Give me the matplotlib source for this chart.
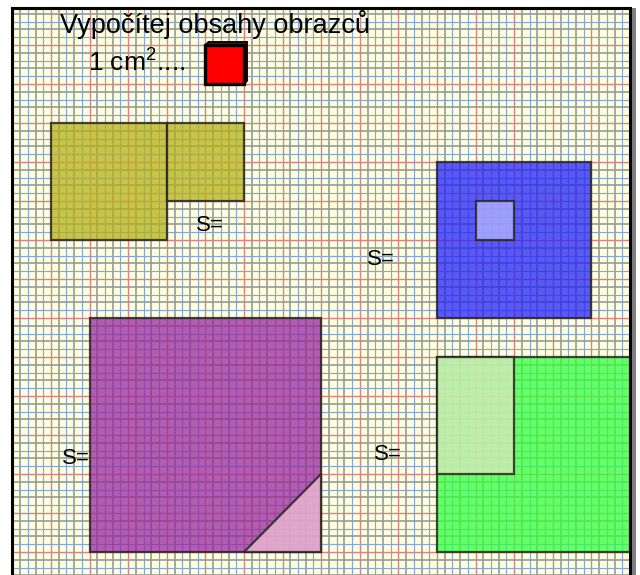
import numpy as np
import matplotlib
matplotlib.use("Agg")
import matplotlib.pyplot as plt
from matplotlib.patches import Rectangle, Polygon

plt.rcParams['font.family'] = ['Liberation Sans', 'DejaVu Sans']
plt.rcParams['mathtext.fontset'] = 'custom'
plt.rcParams['mathtext.rm'] = 'Liberation Sans'
plt.rcParams['mathtext.it'] = 'Liberation Sans'

# shapes in cm on the squared paper (x to the right, y downwards)
olive_rects = [(0, 2, 3, 3), (3, 2, 2, 2)]          # x, y, w, h
blue_outer = (10, 3, 4, 4)
blue_inner = (11, 4, 1, 1)
purple_square = (1, 7, 6, 6)
pink_triangle = [(5, 13), (7, 13), (7, 11)]
green_square = (10, 8, 5, 5)
green_light = (10, 8, 2, 3)
unit_square = (4, 0, 1, 1)

title = "Vypočítej obsahy obrazců"
unit_label = "1 cm$^{\\mathrm{2}}$...."
s_label = "S="
s_positions = [(3.76, 4.62), (8.19, 5.49), (0.28, 10.6), (8.37, 10.5)]

# colours
cream = '#FFFFDD'
c_red = '#D98088'
c_blue = '#85A6D6'
c_gray = '#949C9C'
a = 0.75

fig = plt.figure(figsize=(6.4, 5.75), dpi=100)
ax = fig.add_axes([0, 0, 1, 1])
ax.set_xlim(-51 / 38.6, 589 / 38.6)
ax.set_ylim(530 / 39.0, -45 / 39.0)
ax.axis('off')

# paper frame with shadow
shadow = Rectangle((-0.9, -0.95), 16.05, 15, facecolor='#808080', edgecolor='none', zorder=0)
ax.add_patch(shadow)
paper = Rectangle((-1.0, -0.95), 16.0, 15, facecolor=cream, edgecolor='none', zorder=1)
ax.add_patch(paper)


def line_style(v):
    k = int(round(v * 5)) % 5
    if k == 0:
        return c_red, 1.0
    if k % 2 == 1:
        return c_gray, 1.2
    return c_blue, 0.85


# grid
xs = np.round(np.arange(-1.0, 15.01, 0.2), 2)
ys = np.round(np.arange(-1.0, 14.01, 0.2), 2)
for x in xs:
    col, lw = line_style(x)
    ln, = ax.plot([x, x], [-0.95, 14], color=col, lw=lw, zorder=2)
    ln.set_clip_path(paper)
for y in ys:
    col, lw = line_style(y)
    ln, = ax.plot([-1, 15], [y, y], color=col, lw=lw, zorder=2)
    ln.set_clip_path(paper)

# frame border
ax.plot([-1.0, -1.0], [-0.95, 14], color='black', lw=2.2, zorder=6)
ax.plot([-1.0, 15.0], [-0.95, -0.95], color='black', lw=2.2, zorder=6)
ax.plot([15.0, 15.0], [-0.95, 14], color='black', lw=2.2, zorder=6)

edge = (0.15, 0.15, 0.15, 0.85)


def fc_alpha(c):
    rgb = matplotlib.colors.to_rgb(c)
    return (*rgb, a)


def rect(r, fc, z=3):
    ax.add_patch(Rectangle((r[0], r[1]), r[2], r[3], facecolor=fc_alpha(fc),
                           edgecolor=edge, lw=1.6, zorder=z))


for r in olive_rects:
    rect(r, '#B5B019')
rect(blue_outer, '#2323F7')
rect(blue_inner, '#B8B8FF', z=4)
rect(purple_square, '#98289F')
ax.add_patch(Polygon(pink_triangle, closed=True, facecolor=fc_alpha('#F0C1D6'),
                     edgecolor=edge, lw=1.6, zorder=4))
rect(green_square, '#33FF3F')
rect(green_light, '#DEE8BE', z=4)

# red unit square with 3D look
ux, uy, uw, uh = unit_square
d = 0.08
ax.add_patch(Polygon([(ux, uy + uh), (ux, uy), (ux + d, uy - d), (ux + uw + d, uy - d),
                      (ux + uw + d, uy + uh - d), (ux + uw, uy + uh)],
                     closed=True, facecolor='#8B0000', edgecolor='black', lw=1.2, zorder=5))
ax.add_patch(Rectangle((ux, uy), uw, uh, facecolor='#FF0000', edgecolor='black',
                       lw=2.4, zorder=6))

# texts
ax.text(0.23, -0.31, title, fontsize=19.5, va='baseline', ha='left', zorder=7)
ax.text(0.96, 0.69, unit_label, fontsize=19, va='baseline', ha='left', zorder=7)
for (sx, sy) in s_positions:
    ax.text(sx, sy, s_label, fontsize=16, va='center', ha='left', zorder=7)

fig.savefig('out.png', dpi=100, facecolor='white')
